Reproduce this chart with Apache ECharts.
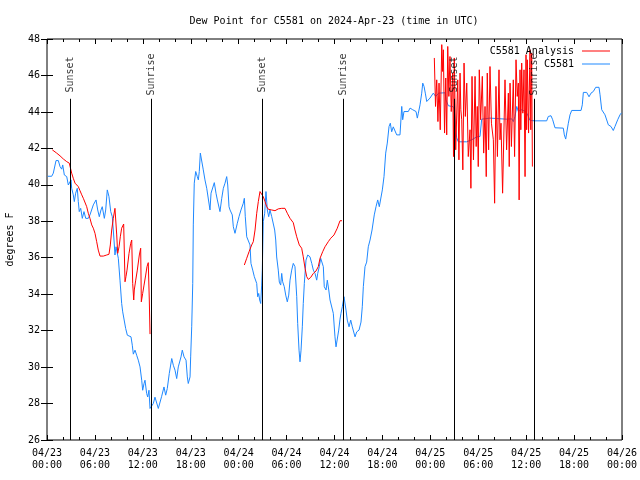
<!DOCTYPE html>
<html><head><meta charset="utf-8">
<script src="https://cdn.jsdelivr.net/npm/echarts@6/dist/echarts.min.js"></script>
<style>html,body{margin:0;padding:0;background:#fff}#c{width:640px;height:480px}</style>
</head><body><div id="c"></div>
<script>
// time in hours since 2024-04-23 00:00 UTC, value in degrees F
const xTickLabels = ['04/23\n00:00','04/23\n06:00','04/23\n12:00','04/23\n18:00','04/24\n00:00','04/24\n06:00','04/24\n12:00','04/24\n18:00','04/25\n00:00','04/25\n06:00','04/25\n12:00','04/25\n18:00','04/26\n00:00'];
const sunHours = [2.92, 13.05, 26.96, 37.08, 51.0, 61.02];
const sunNames = ['Sunset','Sunrise','Sunset','Sunrise','Sunset','Sunrise'];

const observed = [
[0.09,40.47],[0.59,40.47],[0.79,40.64],[1.13,41.33],[1.42,41.33],[1.63,41.0],[1.84,40.86],[1.97,41.09],[2.17,40.54],[2.47,40.45],
[2.67,39.99],[2.88,40.09],[3.01,40.27],[3.09,39.81],[3.29,39.45],[3.42,39.08],[3.59,39.54],[3.79,39.81],[3.92,39.08],[4.04,38.53],
[4.22,38.71],[4.42,38.16],[4.63,38.53],[4.85,38.16],[5.17,38.16],[5.38,38.35],[5.60,38.44],[5.80,38.90],[6.14,39.17],[6.35,38.62],
[6.55,38.25],[6.76,38.62],[6.92,38.80],[7.18,38.16],[7.35,38.62],[7.55,39.72],[7.76,39.35],[7.98,38.53],[8.18,38.25],[8.39,36.97],
[8.51,36.15],[8.64,36.60],[8.80,36.52],[8.93,35.97],[9.14,34.77],[9.35,33.49],[9.48,33.03],[9.68,33.03],[9.85,32.12],[10.06,31.75],
[10.52,31.66],[10.68,31.20],[10.81,30.71],[11.02,30.93],[11.23,30.65],[11.43,30.38],[11.65,30.01],[11.86,29.28],[11.98,28.73],[12.15,29.10],
[12.27,29.28],[12.48,28.55],[12.61,28.36],[12.77,28.73],[12.90,27.73],[13.11,27.80],[13.31,28.0],[13.52,28.35],[13.74,28.35],[13.94,27.73],
[14.09,27.69],[14.36,28.40],[14.65,28.91],[14.86,28.46],[15.06,28.82],[15.31,29.65],[15.62,30.47],[15.82,30.10],[16.03,29.83],[16.24,29.37],
[16.44,30.01],[16.65,30.10],[16.78,30.56],[16.94,30.93],[17.16,30.56],[17.41,30.38],[17.57,29.46],[17.69,29.10],[17.91,29.46],[17.99,30.56],
[18.12,32.21],[18.25,34.59],[18.32,37.80],[18.44,40.09],[18.62,40.73],[18.82,40.45],[18.95,40.27],[19.07,40.73],[19.20,41.74],[19.41,41.77],
[19.57,40.82],[19.78,40.27],[20.0,39.81],[20.20,39.81],[20.41,38.62],[20.54,39.54],[20.75,39.54],[20.95,40.12],[21.16,39.54],[21.33,39.17],
[21.54,39.08],[21.66,38.53],[21.88,39.26],[22.08,39.81],[22.29,40.09],[22.50,40.45],[22.63,39.99],[22.79,38.80],[22.92,38.62],[23.04,38.71],
[23.20,38.35],[23.33,37.70],[23.54,37.34],[23.67,37.34],[23.83,37.89],[24.04,38.25],[24.29,38.62],[24.58,38.99],[24.71,39.26],[24.83,38.25],
[25.01,37.15],[25.21,37.15],[25.42,36.70],[25.54,35.69],[25.76,35.32],[25.96,34.96],[26.13,34.96],[26.26,34.59],[26.38,33.86],[26.51,34.04],
[26.63,33.68],[26.76,33.49],[26.88,34.50],[26.96,35.32],[27.08,37.98],[27.26,38.44],[27.42,39.63],[27.59,38.62],[27.76,38.25],[27.92,38.62],
[28.14,38.25],[28.34,38.16],[28.51,37.52],[28.64,36.97],[28.76,36.04],[28.96,35.32],[29.09,34.66],[29.26,34.50],[29.39,35.14],[29.51,34.68],
[29.71,34.41],[29.89,33.95],[30.09,33.58],[30.27,33.95],[30.43,34.77],[30.64,35.32],[30.84,35.69],[31.05,35.51],[31.27,33.86],[31.39,32.40],
[31.56,30.93],[31.68,30.29],[31.81,30.93],[31.97,32.21],[32.09,33.49],[32.22,34.59],[32.43,35.87],[32.65,36.15],[32.93,36.05],[33.15,35.69],
[33.35,35.32],[33.56,35.14],[33.77,34.77],[33.90,35.14],[34.10,35.51],[34.27,35.97],[34.47,36.05],[34.60,35.51],[34.72,34.41],[34.94,34.23],
[35.10,34.77],[35.28,34.23],[35.44,33.68],[35.65,33.58],[35.85,32.95],[36.06,31.66],[36.19,31.11],[36.35,31.11],[36.53,32.03],[36.69,32.63],
[36.81,32.95],[36.98,33.31],[37.19,33.86],[37.32,33.79],[37.44,33.13],[37.60,32.58],[37.82,32.21],[38.03,32.58],[38.23,32.21],[38.57,31.66],
[38.78,31.93],[39.07,32.03],[39.32,32.47],[39.48,33.31],[39.61,34.41],[39.82,35.51],[40.03,35.76],[40.23,36.60],[40.45,36.97],[40.70,37.52],
[40.98,38.35],[41.20,38.80],[41.41,39.17],[41.61,38.80],[41.82,38.80],[41.99,39.72],[42.20,40.45],[42.41,41.74],[42.61,42.29],[42.83,43.20],
[42.99,43.38],[43.16,42.91],[43.36,43.18],[43.58,43.11],[43.79,42.74],[43.99,42.84],[44.20,42.74],[44.42,44.30],[44.54,43.57],[44.70,44.02],
[44.95,44.02],[45.24,44.02],[45.46,44.21],[45.62,44.30],[45.79,44.12],[45.96,44.02],[46.21,44.02],[46.37,43.66],[46.50,43.93],[46.71,44.39],
[46.92,45.03],[47.05,45.58],[47.21,45.40],[47.37,45.03],[47.55,44.57],[47.75,44.66],[47.96,44.76],[48.17,44.85],[48.37,45.03],[48.50,45.07],
[48.67,44.85],[48.87,44.85],[49.05,45.03],[49.21,45.08],[49.84,45.05],[49.96,44.66],[50.25,44.34],[50.88,44.28],[51.0,44.12],[51.13,43.29],
[51.30,42.58],[51.50,42.36],[52.55,42.36],[53.18,42.47],[53.81,42.63],[54.22,42.65],[54.43,43.60],[55.47,43.66],[57.56,43.60],[58.19,43.62],
[58.39,43.47],[58.60,43.75],[58.82,44.30],[59.02,44.02],[59.35,44.12],[59.64,44.08],[59.94,44.02],[60.19,43.84],[60.36,43.66],[60.48,43.53],
[61.11,43.51],[62.57,43.51],[62.77,43.75],[63.11,43.79],[63.32,43.57],[63.61,43.13],[64.65,43.11],[64.78,42.74],[64.95,42.51],[65.15,42.51],
[65.28,43.38],[65.49,43.84],[65.70,44.08],[66.87,44.08],[67.03,44.39],[67.16,45.07],[67.58,45.07],[67.87,44.83],[68.12,45.03],[68.41,45.12],
[68.71,45.35],[69.12,45.35],[69.25,44.94],[69.46,44.12],[69.87,43.84],[70.29,43.29],[70.62,43.20],[70.91,42.98],[71.12,43.20],[71.46,43.57],
[71.75,43.84],[71.94,43.95]
];

const analysisDay1 = [
[0.66,41.92],[1.21,41.74],[1.63,41.59],[2.04,41.42],[2.47,41.27],[2.79,41.19],[2.88,41.09],[3.09,40.64],[3.29,40.36],[3.51,40.09],
[3.72,40.03],[3.92,39.90],[4.13,39.68],[4.35,39.45],[4.55,39.26],[4.76,39.17],[4.97,38.80],[5.17,38.44],[5.38,38.16],[5.60,37.80],
[5.80,37.62],[6.01,37.34],[6.22,36.88],[6.42,36.42],[6.64,36.09],[6.85,36.02],[7.05,36.09],[7.48,36.15],[7.76,36.19],[7.93,36.70],
[8.10,37.52],[8.30,38.16],[8.51,38.71],[8.64,38.80],[8.73,37.25],[8.85,36.24],[9.02,36.60],[9.18,37.15],[9.35,37.62],[9.60,37.85],
[9.68,37.85],[9.77,34.68],[9.89,34.96],[10.02,35.32],[10.27,36.24],[10.48,36.79],[10.61,36.97],[10.73,34.59],[10.86,33.68],[10.93,34.23],
[11.11,34.77],[11.31,35.32],[11.56,36.15],[11.73,36.52],[11.81,33.58],[11.98,34.04],[12.15,34.50],[12.36,35.05],[12.52,35.51],[12.68,35.73],
[12.81,33.68],[12.90,31.81]
];

const analysisDay2 = [
[24.71,35.60],[25.01,35.97],[25.30,36.33],[25.63,36.70],[25.83,36.88],[26.05,37.52],[26.26,38.44],[26.46,39.08],[26.67,39.63],[26.88,39.68],
[27.08,39.35],[27.30,39.08],[27.51,38.80],[27.71,38.66],[28.14,38.62],[28.55,38.58],[28.96,38.68],[29.39,38.71],[29.80,38.71],[30.09,38.44],
[30.43,38.16],[30.84,37.92],[31.05,37.52],[31.27,37.15],[31.59,36.70],[31.89,36.52],[32.09,36.05],[32.31,35.42],[32.52,34.96],[32.72,34.81],
[33.02,34.92],[33.35,35.14],[33.68,35.27],[33.97,35.51],[34.19,35.97],[34.52,36.33],[34.81,36.60],[35.22,36.88],[35.53,37.07],[35.94,37.25],
[36.35,37.62],[36.69,38.03],[36.94,38.03]
];

const analysisDay3 = [
[48.50,46.96],[48.65,44.30],[48.80,45.76],[48.95,43.47],[49.09,45.58],[49.24,43.02],[49.43,47.69],[49.53,46.22],[49.63,47.41],[49.78,42.84],
[49.93,45.86],[50.05,42.74],[50.18,47.59],[50.32,44.85],[50.46,47.04],[50.62,44.02],[50.80,46.13],[50.90,41.55],[51.00,46.96],[51.18,41.92],
[51.43,45.76],[51.58,41.37],[51.72,46.13],[51.82,44.12],[51.93,43.57],[52.07,40.82],[52.22,46.68],[52.38,43.75],[52.56,45.58],[52.75,41.55],
[52.97,43.02],[53.08,39.81],[53.22,45.95],[53.40,41.37],[53.60,45.95],[53.74,42.10],[53.88,44.30],[54.00,41.00],[54.13,46.31],[54.30,43.57],
[54.51,45.95],[54.68,41.74],[54.85,44.30],[55.00,40.45],[55.13,46.13],[55.30,41.92],[55.47,46.49],[55.65,43.38],[55.89,42.47],[56.05,38.99],
[56.22,45.40],[56.40,41.55],[56.60,46.31],[56.72,42.47],[56.85,43.38],[57.05,39.54],[57.35,45.76],[57.55,41.92],[57.77,45.03],[57.88,41.00],
[57.98,45.58],[58.15,42.10],[58.39,45.76],[58.55,41.55],[58.73,46.86],[58.88,44.85],[59.02,45.58],[59.12,39.17],[59.23,46.31],[59.33,43.02],
[59.44,46.68],[59.58,43.93],[59.73,46.31],[59.86,40.45],[59.98,47.14],[60.06,43.02],[60.14,46.86],[60.30,42.84],[60.48,47.41],[60.58,43.02],
[60.69,47.23],[60.78,41.00]
];

const FONT = 'DejaVu Sans Mono';
const RED = '#ff0000', BLUE = '#1e88ff';
const yMin = 26, yMax = 48, sunLineTop = 44.72, sunLabelY = 46.05;

const chart = echarts.init(document.getElementById('c'), null, {renderer: 'canvas'});
const analysisSeries = [analysisDay1, analysisDay2, analysisDay3].map(d => ({
  name: 'C5581 Analysis', type: 'line', data: d, symbol: 'none', z: 3,
  lineStyle: {color: RED, width: 1}, itemStyle: {color: RED}
}));

chart.setOption({
  animation: false,
  backgroundColor: '#fff',
  textStyle: {fontFamily: FONT},
  title: {
    text: 'Dew Point for C5581 on 2024-Apr-23 (time in UTC)',
    left: 334, top: 16, textAlign: 'center', padding: 0,
    textStyle: {fontFamily: FONT, fontSize: 10, fontWeight: 'normal', color: '#000'}
  },
  legend: {
    orient: 'vertical', right: 30, top: 45, align: 'right', padding: 0,
    icon: 'rect', itemWidth: 28, itemHeight: 1, itemGap: 1,
    data: ['C5581 Analysis', 'C5581'],
    textStyle: {fontFamily: FONT, fontSize: 10, color: '#000', lineHeight: 12, padding: [0, 3, 0, 0]}
  },
  grid: {left: 47, right: 18, top: 39, bottom: 40, show: true, borderColor: '#000', borderWidth: 1,
    backgroundColor: 'transparent', containLabel: false, outerBoundsMode: 'none'},
  xAxis: [{
    type: 'value', min: 0, max: 72, interval: 6,
    axisLine: {show: false},
    axisTick: {show: true, inside: true, length: 5, lineStyle: {color: '#000'}},
    minorTick: {show: true, splitNumber: 3, length: 3, lineStyle: {color: '#000'}},
    splitLine: {show: false},
    axisLabel: {fontFamily: FONT, fontSize: 10, color: '#000', lineHeight: 12, margin: 7,
      formatter: v => xTickLabels[Math.round(v / 6)] || ''}
  }, {
    type: 'value', position: 'top', min: 0, max: 72, interval: 6,
    axisLine: {show: false},
    axisTick: {show: true, inside: true, length: 5, lineStyle: {color: '#000'}},
    minorTick: {show: true, splitNumber: 3, length: 3, lineStyle: {color: '#000'}},
    splitLine: {show: false}, axisLabel: {show: false}
  }],
  yAxis: [{
    type: 'value', min: yMin, max: yMax, interval: 2,
    name: 'degrees F', nameLocation: 'middle', nameGap: 32, nameRotate: 90,
    nameTextStyle: {fontFamily: FONT, fontSize: 10, color: '#000'},
    axisLine: {show: false},
    axisTick: {show: true, inside: true, length: 6, lineStyle: {color: '#000'}},
    splitLine: {show: false},
    axisLabel: {fontFamily: FONT, fontSize: 10, color: '#000', margin: 7}
  }, {
    type: 'value', position: 'right', min: yMin, max: yMax, interval: 2,
    axisLine: {show: false},
    axisTick: {show: true, inside: true, length: 6, lineStyle: {color: '#000'}},
    splitLine: {show: false}, axisLabel: {show: false}
  }],
  series: [
    ...analysisSeries,
    {
      name: 'C5581', type: 'line', data: observed, symbol: 'none', z: 2,
      lineStyle: {color: BLUE, width: 1}, itemStyle: {color: BLUE},
      markLine: {
        silent: true, symbol: 'none', label: {show: false},
        lineStyle: {color: '#000', width: 1, type: 'solid'},
        data: sunHours.map(t => [{coord: [t, yMin]}, {coord: [t, sunLineTop]}])
      }
    },
    {
      name: 'sunLabels', type: 'scatter', symbolSize: 0, silent: true, z: 4,
      data: sunHours.map((t, i) => [t, sunLabelY, sunNames[i]]),
      label: {show: true, position: 'inside', rotate: 90, formatter: p => p.data[2],
        fontFamily: FONT, fontSize: 10, color: '#000'}
    }
  ]
});
</script></body></html>
